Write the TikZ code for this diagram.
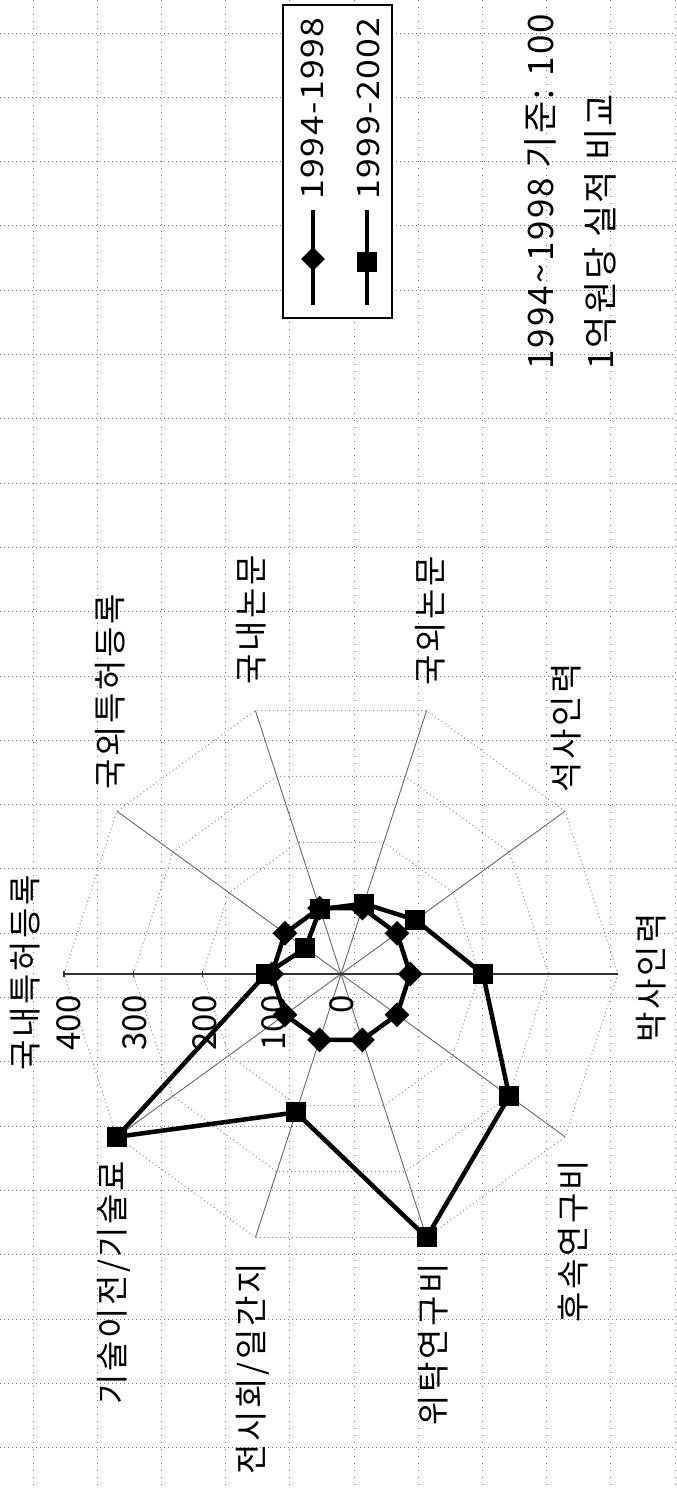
\documentclass[tikz,border=0pt]{standalone}
\usepackage{fontspec}
\setmainfont{Noto Sans CJK KR}
\usetikzlibrary{shapes.geometric}
\begin{document}
\begin{tikzpicture}[x=0.5pt,y=-0.5pt,
  paperh/.style={black!55, line width=0.5pt, dash pattern=on 0.5pt off 1.5pt},
  paperv/.style={black!55, line width=0.5pt, dash pattern=on 0.5pt off 3pt},
  ringgrid/.style={black!45, line width=0.5pt, dash pattern=on 0.5pt off 1.5pt},
  spoke/.style={black!60, line width=0.45pt},
  valaxis/.style={black!80, line width=0.7pt},
  serieline/.style={black, line width=2.25pt, line join=round},
  sqmark/.style={rectangle, fill=black, minimum size=10pt, inner sep=0pt},
  dmmark/.style={diamond, fill=black, minimum size=12.5pt, inner sep=0pt},
  catlabel/.style={rotate=90, inner sep=0pt, anchor=center, font=\fontsize{16.5}{16.5}\selectfont\addfontfeature{LetterSpace=8}},
  vallabel/.style={rotate=90, inner sep=0pt, anchor=east, font=\fontsize{16.5}{16.5}\selectfont},
  legtext/.style={rotate=90, xscale=1.15, inner sep=0pt, anchor=west, font=\fontsize{15.5}{15.5}\selectfont\addfontfeature{LetterSpace=4}},
  legbox/.style={draw=black, line width=0.6pt, fill=white, minimum width=54.5pt, minimum height=156.5pt, inner sep=0pt},
  legline/.style={black, line width=1.6pt},
  titletext/.style={rotate=90, inner sep=0pt, anchor=west, font=\fontsize{17.5}{17.5}\selectfont\addfontfeature{LetterSpace=6}}
]
\useasboundingbox (0,0) rectangle (676,1488);
\fill[white] (0,0) rectangle (676,1488);
% graph-paper background
\foreach \k in {0,...,22} \draw[paperh] (0,{33+\k*64.3}) -- (676,{33+\k*64.3});
\foreach \k in {0,...,10} \draw[paperv] ({33+\k*64.2},0) -- ({33+\k*64.2},1488);

\begin{scope}[shift={(341,974)}]
  \coordinate (O) at (0,0);
  % ring gridlines
  \foreach \r in {69.25,138.5,207.75,277}
    \draw[ringgrid] (180:\r) \foreach \a in {216,252,...,504} { -- (\a:\r) } -- cycle;
  % spokes
  \foreach \k in {1,...,10} {
    \coordinate (e\k) at ({180+36*(\k-1)}:277);
    \draw[spoke] (O) -- (e\k);
  }
  \draw[valaxis] (e6) -- (e1);
  \foreach \v in {1,2,3,4} \draw[valaxis] ({-69.25*\v},-3) -- ({-69.25*\v},3);
  % value labels
  \node[vallabel] (v0) at (1,21) {0};
  \node[vallabel] (v100) at (-67,21) {100};
  \node[vallabel] (v200) at (-136.5,21) {200};
  \node[vallabel] (v300) at (-206,21) {300};
  \node[vallabel] (v400) at (-272,21) {400};
  % series 1994-1998
  \foreach \k in {1,...,10} \coordinate (a\k) at ({180+36*(\k-1)}:69.25);
  \draw[serieline] (a1) -- (a2) -- (a3) -- (a4) -- (a5) -- (a6) -- (a7) -- (a8) -- (a9) -- (a10) -- cycle;
  \foreach \k in {1,...,10} \node[dmmark] (dm\k) at (a\k) {};
  % series 1999-2002
  \foreach \k/\r in {1/75,2/44,3/68,4/74,5/92,6/142,7/208,8/277,9/145.5,10/277}
    \coordinate (b\k) at ({180+36*(\k-1)}:\r);
  \draw[serieline] (b1) -- (b2) -- (b3) -- (b4) -- (b5) -- (b6) -- (b7) -- (b8) -- (b9) -- (b10) -- cycle;
  \foreach \k in {1,...,10} \node[sqmark] (sq\k) at (b\k) {};
\end{scope}

% category labels
\node[catlabel] (c1) at (25.5,973) {국내특허등록};
\node[catlabel] (c2) at (110,692) {국외특허등록};
\node[catlabel] (c3) at (251,620) {국내논문};
\node[catlabel] (c4) at (430,621) {국외논문};
\node[catlabel] (c5) at (566,728) {석사인력};
\node[catlabel] (c6) at (651,978) {박사인력};
\node[catlabel] (c7) at (573,1241) {후속연구비};
\node[catlabel] (c8) at (433,1344) {위탁연구비};
\node[catlabel] (c9) at (253,1369) {전시회/일간지};
\node[catlabel] (c10) at (114,1283) {기술이전/기술료};

% legend
\node[legbox] (legend) at (337.5,161.5) {};
\coordinate (l1a) at (313,210); \coordinate (l1b) at (313,305);
\coordinate (l2a) at (367,210); \coordinate (l2b) at (367,305);
\draw[legline] (l1a) -- (l1b);
\draw[legline] (l2a) -- (l2b);
\node[dmmark, minimum size=12pt] (ldm) at (313,259) {};
\node[sqmark] (lsq) at (367,262) {};
\node[legtext] (lt1) at (312.5,200) {1994-1998};
\node[legtext] (lt2) at (368.5,200) {1999-2002};

% title texts
\node[titletext] (t1) at (540,370) {1994\textasciitilde 1998 기준: 100};
\node[titletext] (t2) at (600,370) {1억원당 실적 비교};
\end{tikzpicture}
\end{document}
